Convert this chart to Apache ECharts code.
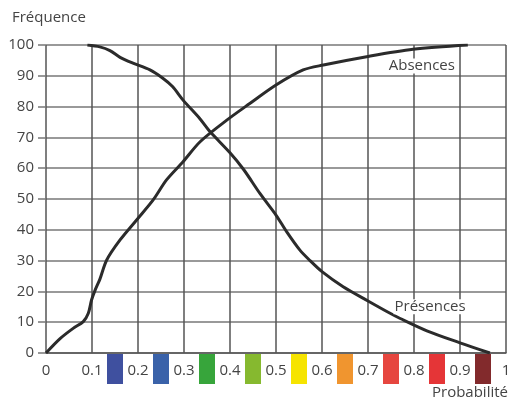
<!DOCTYPE html>
<html>
<head>
<meta charset="utf-8">
<script src="https://cdn.jsdelivr.net/npm/echarts@6/dist/echarts.min.js"></script>
<style>
  html, body { margin: 0; padding: 0; background: #fff; }
  #chart { width: 508px; height: 403px; }
</style>
</head>
<body>
<div id="chart"></div>
<script>
// Frequency curves (in %) against predicted probability
const presences = [
  [0.09, 100], [0.117, 99.4], [0.139, 98.2], [0.161, 96], [0.189, 94.1],
  [0.226, 91.9], [0.254, 89.2], [0.275, 86.5], [0.298, 82.1], [0.335, 76],
  [0.357, 71.8], [0.4, 65], [0.43, 59.5], [0.465, 51.8], [0.5, 44.8],
  [0.523, 39.4], [0.552, 33.4], [0.574, 30], [0.6, 26.4], [0.646, 21.5],
  [0.7, 16.9], [0.748, 12.9], [0.77, 11.2], [0.828, 7.2],
  [0.9, 3.3], [0.965, 0]
];
const absences = [
  [0, 0], [0.03, 4.6], [0.059, 8], [0.081, 10.2], [0.092, 12.9],
  [0.099, 17.2], [0.107, 20.5], [0.117, 23.9], [0.132, 30.2], [0.161, 36.7],
  [0.197, 43.2], [0.233, 49.7], [0.262, 56.2], [0.298, 62.1], [0.335, 68.6],
  [0.393, 75.6], [0.443, 81], [0.5, 87], [0.559, 91.9], [0.603, 93.5],
  [0.697, 96.2], [0.798, 98.6], [0.917, 100]
];
// Probability classes shown as colour swatches under the axis
const classCenters = [0.15, 0.25, 0.35, 0.45, 0.55, 0.65, 0.75, 0.85, 0.95];
const classColors = ['#3f509f', '#3a62a9', '#37a53b', '#86b92f', '#f6e400',
                     '#f0952f', '#e6463f', '#e53537', '#822a2c'];
const curveNames = ['Absences', 'Présences'];
const curveLabelPositions = [[0.817, 93.2], [0.835, 15]];

const FONT = '"Open Sans"';
const TEXT = '#444';
const chart = echarts.init(document.getElementById('chart'), null, { renderer: 'canvas' });

const lineStyle = { color: '#2b2b2b', width: 3 };

chart.setOption({
  animation: false,
  backgroundColor: '#fff',
  grid: { left: 46, right: 2, top: 45, bottom: 50, outerBoundsMode: 'none', containLabel: false },
  xAxis: {
    type: 'value', min: 0, max: 1, interval: 0.1,
    axisLine: { show: true, lineStyle: { color: '#555', width: 1.5 } },
    axisTick: { show: false },
    splitLine: { show: true, lineStyle: { color: '#555', width: 1.5 } },
    axisLabel: {
      color: TEXT, fontFamily: FONT, fontSize: 15, margin: 10,
      formatter: v => String(Math.round(v * 10) / 10)
    }
  },
  yAxis: {
    type: 'value', min: 0, max: 100, interval: 10,
    axisLine: { show: false },
    axisTick: { show: true, length: 8, lineStyle: { color: '#777', width: 1.5 } },
    splitLine: { show: true, lineStyle: { color: '#777', width: 1.5 } },
    axisLabel: { color: TEXT, fontFamily: FONT, fontSize: 15, margin: 12 }
  },
  graphic: [
    { type: 'text', left: 12, top: 10,
      style: { text: 'Fréquence', fill: TEXT, font: '15px ' + FONT } },
    { type: 'text', right: 0, top: 385,
      style: { text: 'Probabilité', fill: TEXT, font: '15px ' + FONT } }
  ],
  series: [
    {
      type: 'custom',
      clip: false,
      silent: true,
      z: 1,
      data: classCenters.map((c, i) => [c, i]),
      renderItem: (params, api) => {
        const p = api.coord([api.value(0), 0]);
        return {
          type: 'rect',
          shape: { x: p[0] - 8, y: p[1] + 1, width: 16, height: 30 },
          style: { fill: classColors[api.value(1)] }
        };
      }
    },
    {
      name: 'Présences',
      type: 'line', data: presences, smooth: 0.3,
      showSymbol: false, lineStyle, z: 3
    },
    {
      name: 'Absences',
      type: 'line', data: absences, smooth: 0.3,
      showSymbol: false, lineStyle, z: 3
    },
    {
      // curve names placed on the grid with a white box
      type: 'scatter',
      symbolSize: 0,
      silent: true,
      z: 4,
      itemStyle: { opacity: 1 },
      data: curveLabelPositions.map((p, i) => ({ value: p, name: curveNames[i] })),
      label: {
        show: true, position: 'inside', formatter: '{b}',
        color: TEXT, fontFamily: FONT, fontSize: 15,
        backgroundColor: '#fff', padding: [0, 1]
      }
    }
  ]
});
</script>
</body>
</html>
